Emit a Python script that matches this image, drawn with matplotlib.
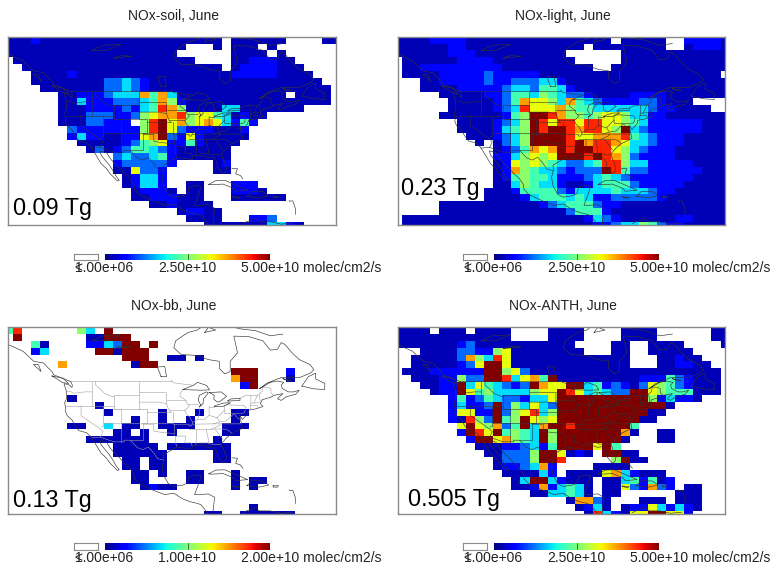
import numpy as np
import matplotlib
matplotlib.use('Agg')
import matplotlib.pyplot as plt
from matplotlib.cm import ScalarMappable
from matplotlib.colors import Normalize

plt.rcParams['font.family'] = ['Liberation Sans', 'DejaVu Sans']

# digit in a row string -> share of the colour scale, '.' -> no data
LEVELS = [0.05, 0.13, 0.23, 0.34, 0.43, 0.52, 0.63, 0.74, 0.87, 1.0]

# rows run north to south, 37 columns west to east
soil_rows = [
    "000100000000000000000000" + "." + "000000" + "...." + "00",
    "0" * 20 + "..." + "0" + "." + "000" + "." + "0" + "." * 7,
    "0" * 19 + "." * 6 + "0000" + "." + "0" + "." * 6,
    "." + "0" * 20 + "...." + "0011100" + ".....",
    ".." + "0" * 22 + "." + "01111000" + "....",
    "..." + "00001" + "0" * 17 + "11111" + "0000" + "...",
    "..." + "00000000" + "22321" + "0" * 19 + "..",
    "...." + "0000000" + "22321" + "0" * 20 + ".",
    "." * 6 + "00" + "111" + "2333" + "7473" + "0" * 12 + "." + "0000" + ".",
    "." * 6 + "00" + "311122234751" + "0" * 16 + ".",
    "." * 6 + "000" + "11112134875" + "0000" + "33" + "0" * 7 + "....",
    "." * 6 + "000" + "22211256778566430100" + "." * 8,
    "." * 6 + "000" + "22111.5896756763141" + "." * 9,
    "." * 7 + "21111111589621110001" + "." * 10,
    "." * 7 + "13110011679216100000" + "." * 10,
    "." * 8 + "000001245611410000" + "." * 11,
    "." * 9 + "0201244321000000" + "." * 12,
    "." * 12 + "2322341000000" + "." * 12,
    "." * 12 + "1222221" + "...." + "01" + "." * 12,
    "." * 12 + "006221" + "....." + "00" + "." * 12,
    "." * 13 + "01331" + "." * 19,
    "." * 13 + "01331" + ".." + "00" + "..." + "111" + "." * 9,
    "." * 14 + "01110" + "." + "00" + "..." + "1110" + "." * 8,
    "." * 14 + "00111000" + "..." + "000000" + "." * 6,
    "." * 16 + "0010000" + "." * 14,
    "." * 19 + "01100" + "." * 13,
    "." * 20 + "0000" + "..." + "112" + "." * 7,
    "." * 22 + "00000003310" + "." * 4,
]

light_rows = [
    "000011110000000000000000" + "." + "00000" + ".." + "11110",
    "000000110000000000000" + "." + "00000000" + ".." + "01110",
    "0000001110000000000" + "." * 6 + "0" * 12,
    "." + "0000001111000000000" + "." * 5 + "0" * 12,
    "." + "001111111110000000000" + ".." + "0" * 13,
    "." + "00" + "00111" + "11" + "2" + "11111" + "0" * 20 + ".",
    "..." + "0011111" + "211222331" + "0" * 18,
    "..." + "0000111112" + "3324431" + "0" * 17,
    "." * 5 + "0000011" + "24435432" + "21000011110000000",
    "." * 6 + "000001" + "247665374321111221000" + "....",
    "." * 6 + "000001" + "23866675443333332110000" + "..",
    "." * 5 + "00000001" + "4599875545665331" + "10000000",
    "." * 7 + "00001" + "23598688688665431" + "11111000",
    "." * 7 + "00001" + "34598998788659321" + "11111000",
    "." * 8 + "0001" + "23599998667778432" + "11100000",
    "." * 9 + "0" + "." + "0" + "23599998978876332" + "11100000",
    "." * 11 + "0" + "12476798998865321" + "11000000",
    "." * 11 + "1" + "13565699989875211" + "11000000",
    "." * 11 + "0" + "16565432234885331" + "11110000",
    "." * 11 + "0" + "17543321222984221" + "11111000",
    "." * 11 + "0" + "14544311123432111" + "11110000",
    "." * 11 + "0" + "03543310013444211" + "11100000",
    "." * 10 + "00" + "01444421333343332" + "11000000",
    "." * 10 + "00" + "00134443431122222" + "10000000",
    "." * 5 + "0" * 11 + "123444211000000000000",
    "." * 5 + "0" * 14 + "24441" + "0" * 13,
    "." + "0" * 20 + "1321" + "000000110000",
    "." + "0" * 21 + "1123354211" + "00000",
]

bb_rows = [
    "48" + "." * 6 + "53" + "." + "9" + "." * 25,
    ".9" + "." * 7 + "00999" + "." * 23,
    "..." + "40" + "...." + "11" + "32" + "99" + "." + "9" + "." * 20,
    "..." + "13" + "....." + "99" + "0" + "999" + "." * 21,
    "." * 13 + "999" + ".." + "00" + "." + "0" + "." * 15,
    "." * 6 + "7" + "." * 7 + "0" + "99" + "." * 20,
    "." * 25 + "999" + "..." + "1" + "." * 5,
    "." * 25 + "799" + "..." + "0" + "." * 5,
    "." * 26 + "19" + "." * 9,
    "." * 37,
    "." * 7 + "0" + "." * 29,
    "." * 10 + "0" + "." * 26,
    "." * 11 + "0" + "." * 5 + "0" + "..." + "0" + "..." + "00" + "." * 10,
    "." * 14 + "0" + ".." + "0" + ".." + "0" + "...." + "0" + "." * 11,
    "." * 7 + "00" + ".." + "3" + "." + "00" + ".." + "0000" + "..." + "000" + "." * 10,
    "." * 12 + "00.0" + ".." + "0" + "." * 5 + "00" + "." * 11,
    "." * 9 + "0" * 7 + "." * 7 + "0" + "." * 13,
    "." * 12 + "00000" + "." + "00" + "0000" + "0" + "." * 12,
    "." * 12 + "000000" + "." * 5 + "00" + "." * 12,
    "." * 13 + "00" + "." + "00" + "." * 5 + "00" + "." * 12,
    "." * 13 + "00" + "." + "00" + "." * 19,
    "." * 14 + "00" + "." + "0" + ".." + "00" + "..." + "0" + "." * 11,
    "." * 14 + "00" + "...." + "00" + "..." + "0" + "." + "00" + "." * 8,
    "." * 15 + "01" + "00" + "." * 6 + "0" + "." + "0" + "." * 9,
    "." * 37,
    "." * 37,
    "." * 27 + "0" + "." * 9,
    "." * 22 + "00" + ".." + "000000" + "." * 5,
]

anth_rows = [
    "0000.000.0000" + "...." + "0000" + "...." + "0000" + "." + "....." + "00",
    "0" * 13 + "...." + "0000" + "...." + "0000" + "." + "....." + "00",
    "0" * 7 + "12" + "0" * 11 + "...." + "00" + ".." + "0000" + "...." + "0",
    "..." + "0000" + "221156" + "0" * 8 + "..." + "00" + ".." + "00000" + "....",
    ".." + "00000" + "275386" + "0" * 13 + "..." + "00100" + "...",
    ".." + "00000" + "126996" + "0" * 13 + "..." + "001100" + "..",
    "." + "000111" + "11199562" + "0" * 21 + ".",
    ".." + "00011" + "522998367490" + "00000000111" + "4" + "2" + "1000" + ".",
    "..." + "0011" + "93643212976699341210265421000" + ".",
    "...." + "011" + "96453333566986343229965444" + "000" + ".",
    "." * 6 + "1" + "41243221336" + "9" * 10 + "513110" + "...",
    "." * 6 + "1" + "31129253632" + "9" * 12 + "0" + "." * 6,
    "." * 6 + "1" + "66119256835" + "9" * 10 + "00" + "." * 7,
    "." * 6 + "1" + "08529459656" + "9" * 9 + "00" + "." * 8,
    "." * 7 + "69657249379" + "98" + "9" * 6 + "4" + "." * 10,
    "." * 7 + "19869454395" + "9" * 7 + "70" + ".." + "00" + "." * 6,
    "." * 8 + "1996754395" + "9" * 7 + "0" + "..." + "00" + "." * 6,
    "." * 9 + "000112314" + "9999" + "6" + "94" + "." * 12,
    "." * 10 + "00222599" + "60" + "10" + "." + "99" + "00" + "." * 10,
    "." * 11 + "02225998" + "...." + "." + "59" + "00" + "." * 9,
    "." * 11 + "0112371" + "...." + "0000" + "." * 11,
    "." * 12 + "0000" + "31" + "." + "0000" + "673" + "1" + "000" + "." * 7,
    "." * 13 + "039931" + "000" + "." + "00" + "341401" + "." * 6,
    "." * 13 + "0" + "01713430" + "." + "00" + "621721" + "." + "00" + "...",
    "." * 15 + "0033430" + "." + "00" + "." * 6 + "000" + "...",
    "." * 19 + "07720" + "..." + "000" + "." + "000" + "...",
    "." * 20 + "0130" + "." + "0116313100"[:9] + "...",
    "." * 21 + "0831" + "0" + "6699661" + "....",
]

titles = ['NOx-soil, June', 'NOx-light, June', 'NOx-bb, June', 'NOx-ANTH, June']
totals = ['0.09 Tg', '0.23 Tg', '0.13 Tg', '0.505 Tg']
scale_mid = ['2.50e+10', '2.50e+10', '1.00e+10', '2.50e+10']
scale_max = ['5.00e+10', '5.00e+10', '2.00e+10', '5.00e+10']
vmax_all = [5.0e10, 5.0e10, 2.0e10, 5.0e10]

# map outlines, lon/lat
coast = [
    [(-141, 60), (-139.5, 59.7), (-137.5, 58.7), (-136, 58), (-134.5, 56.5), (-133, 55), (-130.3, 54.5), (-129, 53),
     (-128, 52), (-127.5, 51), (-125, 50), (-123.2, 49.2), (-122.8, 49), (-122.4, 48), (-122.5, 47.3), (-123.5, 48.2),
     (-124.7, 48.4), (-124.1, 46.5), (-124, 44), (-124.5, 42.8), (-124.2, 41), (-124.3, 40.3), (-123.8, 39),
     (-122.5, 37.8), (-121.9, 36.6), (-120.6, 34.6), (-118.5, 34), (-117.2, 32.7), (-115.8, 30.3), (-114.5, 28),
     (-113, 26.5), (-112, 25), (-110, 22.9), (-109.5, 23.1), (-110.3, 24.2), (-111, 25.5), (-112.2, 27.5), (-113, 28.5),
     (-114.5, 30.5), (-114.8, 31.7), (-113, 31.2), (-112, 29.5), (-110.8, 28), (-109.3, 26.5), (-108, 25),
     (-106.5, 23.5), (-105.5, 22), (-105.3, 20.5), (-104, 19), (-102, 18), (-100, 17), (-97, 15.8), (-94.5, 16.2),
     (-92, 14.5), (-90, 13.7), (-88, 13.2), (-87, 12.8), (-85.7, 11), (-85, 10)],
    [(-83.7, 10), (-83.7, 11), (-83.5, 13), (-83.3, 15), (-85, 16), (-87.5, 15.8), (-88.8, 15.8), (-88.2, 17.5),
     (-87.5, 19.5), (-87, 21.4), (-88.5, 21.6), (-90.3, 21), (-90.7, 19.2), (-92, 18.6), (-94.5, 18.2), (-96, 19),
     (-97.3, 21.5), (-97.7, 24), (-97.2, 26), (-97.3, 27.5), (-95, 29), (-93.8, 29.7), (-91.5, 29.5), (-89.5, 29.1),
     (-89.3, 30.3), (-87, 30.4), (-85, 29.7), (-83.7, 29.9), (-82.7, 28.5), (-82.5, 27), (-81.7, 25.9), (-81, 25.1),
     (-80.3, 25.5), (-80, 26.8), (-81, 29.5), (-81.4, 30.8), (-80, 32.5), (-78.5, 33.8), (-77, 34.6), (-75.6, 35.3),
     (-76, 37), (-76.4, 39.2), (-75.6, 37.9), (-75.1, 38.5), (-74.2, 39.6), (-74, 40.6), (-72, 41), (-70, 41.7),
     (-70.7, 42.5), (-70.2, 43.7), (-68, 44.4), (-66.9, 45), (-64.5, 45.5), (-66, 44), (-65, 43.5), (-63.5, 44.6),
     (-61, 45.3), (-60, 46.5), (-61.5, 46), (-63, 46), (-64.7, 47), (-65, 48), (-64.3, 48.8), (-66, 49.2), (-68, 48.8),
     (-70, 47.5), (-71, 46.9), (-69, 48.5), (-67, 49.4), (-65, 50.2), (-60, 50.2), (-57, 51.5), (-56, 52.5), (-57, 54),
     (-60, 55.5), (-62, 57.5), (-64, 60), (-65, 60.5), (-66, 58.5), (-68, 58.3), (-70, 61), (-74, 62.3), (-78, 62.4),
     (-77.5, 60), (-77, 57.5), (-79, 55), (-79, 52), (-80.5, 51.3), (-82, 52.9), (-82, 55), (-85, 55.5), (-88, 56.7),
     (-92.5, 57), (-94.5, 59), (-94, 61), (-92, 62.5), (-90.5, 63.5), (-88, 64.2), (-87, 65)],
    [(-64.5, 63), (-68, 62.5), (-72, 64), (-76, 64.5), (-78, 65)],
    [(-86, 63.5), (-83, 64.2), (-85, 65), (-86, 63.5)],
    [(-84.9, 21.9), (-83, 23), (-80.5, 23.1), (-77, 21.5), (-74.2, 20.2), (-77.5, 19.9), (-78, 20.7), (-81, 22),
     (-84, 21.8), (-84.9, 21.9)],
    [(-74.4, 18.4), (-73, 19.9), (-70, 19.8), (-68.4, 18.6), (-71, 18), (-74.4, 18.4)],
    [(-78.3, 18.3), (-76.3, 18.1), (-77, 17.8), (-78.3, 18.3)],
    [(-67.2, 18.4), (-65.7, 18.4), (-66, 18), (-67.2, 18), (-67.2, 18.4)],
    [(-78.5, 26.6), (-77, 26.5), (-77.5, 25), (-76.2, 24.5), (-75.5, 23.5)],
    [(-62.8, 17.2), (-62.7, 17), (-61.8, 17.1), (-61.5, 16.2), (-61, 14.6), (-61, 13.2)],
    [(-75.5, 10.5), (-74.5, 11), (-72, 12), (-71, 11), (-68, 11), (-65, 10.3), (-62, 10.6)],
    [(-59.3, 47.7), (-57.5, 50.5), (-55.5, 51.5), (-55.5, 49.8), (-53, 48.5), (-53, 46.7), (-56, 46.9), (-59.3, 47.7)],
    [(-128, 50.7), (-125, 50), (-123.4, 48.5), (-125, 48.7), (-128, 50.7)],
    [(-133, 54), (-131.7, 54), (-131, 52), (-133, 54)],
    [(-64.5, 49.9), (-62, 49.3), (-63, 49.2), (-64.5, 49.9)],
    # lakes
    [(-92, 46.7), (-89, 48), (-88, 48.8), (-85.5, 47.9), (-84.7, 46.6), (-87, 46.5), (-90, 46.6), (-92, 46.7)],
    [(-87.5, 41.7), (-87, 42), (-87.8, 43.5), (-87.5, 45), (-85.5, 46), (-85, 45.7), (-86.3, 44), (-86.5, 42.5), (-87.5, 41.7)],
    [(-84.7, 45.8), (-81.5, 46), (-80, 44.7), (-81.7, 43.3), (-82.5, 43), (-83.5, 43.8), (-83.4, 45), (-84.7, 45.8)],
    [(-83.4, 41.7), (-81, 41.7), (-78.9, 42.8), (-81, 42.7), (-83, 42), (-83.4, 41.7)],
    [(-79.7, 43.3), (-76.3, 43.5), (-76.3, 44.1), (-79, 43.9), (-79.7, 43.3)],
    [(-98, 50.5), (-96.5, 50.5), (-97, 53.5), (-99, 53.3), (-98, 50.5)],
    [(-117, 61), (-113, 61), (-109, 62.8), (-114, 62.5), (-117, 61)],
    [(-111, 58.7), (-106, 59.3), (-109, 59.5), (-111, 58.7)],
]

borders = [
    [(-123, 49), (-95.2, 49), (-95.2, 49.4), (-94.6, 48.7), (-92, 48.3), (-89.5, 48)],
    [(-76.3, 44.2), (-74.7, 45), (-71.5, 45), (-70.3, 46), (-70, 47.4), (-69, 47.4), (-67.8, 47), (-67.8, 45.7), (-67, 45)],
    [(-117.1, 32.5), (-114.7, 32.7), (-111, 31.3), (-108.2, 31.3), (-108.2, 31.8), (-106.5, 31.8), (-104.5, 29.6),
     (-103, 29), (-101.5, 29.8), (-100, 28), (-99, 26.4), (-97.2, 25.9)],
    [(-124, 46.2), (-123, 46.2), (-122, 45.6), (-119, 46), (-117, 46)],
    [(-117, 49), (-117, 42)],
    [(-124.2, 42), (-111, 42)],
    [(-116, 49), (-116, 48), (-114.5, 46.6), (-113.5, 45.5), (-111, 44.5)],
    [(-111, 45), (-104, 45)],
    [(-111, 45), (-111, 41), (-104, 41)],
    [(-104, 49), (-104, 41)],
    [(-104, 45.9), (-96.6, 45.9)],
    [(-104, 43), (-98.5, 43), (-96.5, 42.5)],
    [(-102, 40), (-95.3, 40)],
    [(-104, 41), (-102, 41), (-102, 40)],
    [(-109, 41), (-109, 37), (-102, 37), (-102, 40)],
    [(-114, 42), (-114, 36), (-114.6, 36)],
    [(-114, 37), (-109, 37)],
    [(-111, 41), (-109, 41)],
    [(-120, 42), (-120, 39), (-114.6, 35), (-114, 34.3), (-114.7, 32.7)],
    [(-109, 37), (-109, 31.3)],
    [(-103, 37), (-103, 32), (-106.6, 32)],
    [(-103, 37), (-94.6, 37)],
    [(-103, 36.5), (-100, 36.5), (-100, 34.5), (-98, 34.1), (-95, 33.8), (-94.5, 33.6)],
    [(-94.5, 36.5), (-94.5, 33.6)],
    [(-94.6, 40), (-94.6, 36.5)],
    [(-95.8, 40.6), (-91.5, 40.6), (-91, 39.5), (-90.2, 38.7), (-89.3, 37), (-89.7, 36), (-90.3, 36), (-90.3, 36.5), (-94.5, 36.5)],
    [(-96.5, 43.5), (-91.2, 43.5)],
    [(-96.5, 45.5), (-96.5, 42.5), (-96, 41), (-95.3, 40)],
    [(-92, 46.7), (-92.8, 45.5), (-92.8, 44.7), (-91.2, 43.5), (-91, 42.7), (-90.2, 41.8), (-91, 41), (-91.5, 40.6)],
    [(-90.6, 42.5), (-87.8, 42.5)],
    [(-87.5, 41.7), (-87.5, 39.3), (-88, 37.8), (-89.3, 37)],
    [(-84.8, 41.7), (-84.8, 39.1), (-82.6, 38.4), (-80.6, 40.6), (-80.5, 42)],
    [(-88, 37.8), (-86, 38), (-84.8, 39.1)],
    [(-84.8, 41.7), (-83.4, 41.7)],
    [(-89.4, 36.5), (-83.7, 36.6), (-75.9, 36.6)],
    [(-90.2, 35), (-84.3, 35), (-82, 36.1), (-81.7, 36.6)],
    [(-94, 33), (-91.2, 33), (-91.5, 31), (-89.7, 31), (-89.5, 30.2)],
    [(-94, 33), (-94, 31), (-93.7, 30)],
    [(-88.2, 35), (-88.4, 30.3)],
    [(-85.6, 35), (-85, 32), (-85, 31)],
    [(-87.5, 31), (-85, 31), (-84.9, 30.7), (-82.2, 30.5), (-81.5, 30.7)],
    [(-83.1, 35), (-81, 32)],
    [(-84.3, 35), (-83, 35.1), (-81, 35.1), (-79.7, 34.8), (-78.5, 33.8)],
    [(-82.6, 38.4), (-82, 37.5), (-81.7, 37.2), (-83.7, 36.6)],
    [(-81.7, 37.2), (-80, 37.5), (-78.3, 39.3), (-77.7, 39.3), (-77, 38.3), (-76.3, 38)],
    [(-80.5, 42), (-79.8, 42.2), (-75.3, 42), (-74.7, 41.4), (-75.1, 39.9), (-75.7, 39.7), (-80.5, 39.7), (-80.5, 40.6)],
    [(-73.5, 41), (-73.3, 42.7), (-73.3, 45)],
    [(-73.4, 42.7), (-70.9, 42.8)],
    [(-73.5, 42), (-71.5, 42), (-71.4, 41.4)],
    [(-71.5, 45), (-72.5, 42.7)],
    [(-71, 45.2), (-70.7, 43.1)],
]

W, H = 770, 567
fig = plt.figure(figsize=(W / 100, H / 100), dpi=100)


def px_axes(x0, y0, x1, y1):
    return fig.add_axes([x0 / W, 1 - y1 / H, (x1 - x0) / W, (y1 - y0) / H])


def to_values(rows, vmax):
    data = np.full((len(rows), 37), np.nan)
    for r, row in enumerate(rows):
        for c, ch in enumerate(row[:37]):
            if ch != '.':
                data[r, c] = LEVELS[int(ch)] * vmax
    return np.ma.masked_invalid(data)


all_rows = [soil_rows, light_rows, bb_rows, anth_rows]
panel_x = [8.3, 397.7, 8.3, 397.7]
panel_y = [36.7, 36.7, 327.3, 327.3]
panel_h = [188.5, 188.5, 187, 187]
total_x = [12.7, 400.7, 12.7, 408.3]
total_y = [208, 188, 500, 499.5]
title_y = [16, 16, 305.7, 305.7]
bar_y = [253.5, 253.5, 543.3, 543.3]

lon_edges = -141.25 + 2.5 * np.arange(38)
lat_edges = 65 - 2.0 * np.arange(29)

for i in range(4):
    x0, y0 = panel_x[i], panel_y[i]
    ax = px_axes(x0, y0, x0 + 327.4, y0 + panel_h[i])
    ax.pcolormesh(lon_edges, lat_edges, to_values(all_rows[i], vmax_all[i]),
                  cmap='jet', vmin=0, vmax=vmax_all[i], shading='flat')
    ax.set_xlim(-140, -50)
    ax.set_ylim(10, 65)
    ax.set_xticks([])
    ax.set_yticks([])
    for sp in ax.spines.values():
        sp.set_color('#8a8a8a')
        sp.set_linewidth(1.0)

    # bb panel shows the borders in grey, the others in dark
    border_col = '#a0a0a0' if i == 2 else '#333333'
    for seg in borders:
        pts = np.array(seg)
        ax.plot(pts[:, 0], pts[:, 1], c=border_col, lw=0.4)
    for seg in coast:
        pts = np.array(seg)
        ax.plot(pts[:, 0], pts[:, 1], c='#333333', lw=0.45)

    cx = x0 + 165.5
    fig.text(cx / W, 1 - title_y[i] / H, titles[i], fontsize=10, color='#222222', ha='center', va='center')
    fig.text(total_x[i] / W, 1 - total_y[i] / H, totals[i], fontsize=16.8, color='black', ha='left', va='center')

    # colour scale
    by = bar_y[i]
    wx = x0 + 65.4
    box = px_axes(wx, by, wx + 24, by + 6.8)
    box.set_xticks([])
    box.set_yticks([])
    for sp in box.spines.values():
        sp.set_color('#8a8a8a')
        sp.set_linewidth(0.8)
    cax = px_axes(x0 + 96.7, by, x0 + 261.7, by + 6.8)
    cb = fig.colorbar(ScalarMappable(Normalize(0, vmax_all[i]), 'jet'), cax=cax, orientation='horizontal')
    cb.set_ticks([])
    cb.outline.set_visible(False)
    cax.axvline(vmax_all[i] / 2, c='#333333', lw=0.5)

    ty = 1 - (by + 15) / H
    fig.text((x0 + 65.7) / W, ty, '<', fontsize=10, color='#222222', ha='left', va='center')
    fig.text((x0 + 66.5) / W, ty, '1.00e+06', fontsize=10, color='#222222', ha='left', va='center')
    fig.text((x0 + 179) / W, ty, scale_mid[i], fontsize=10, color='#222222', ha='center', va='center')
    fig.text((x0 + 232.7) / W, ty, scale_max[i] + ' molec/cm2/s', fontsize=10, color='#222222', ha='left', va='center')

fig.savefig('out.png', dpi=100)
